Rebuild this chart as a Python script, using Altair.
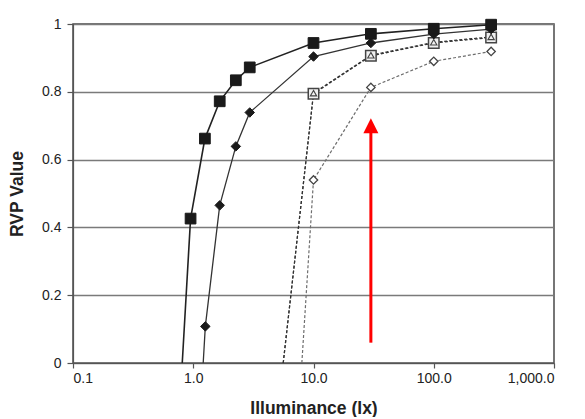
import altair as alt
import pandas as pd

# Series (illuminance in lx, RVP value)
sq_x = [0.81, 0.95, 1.25, 1.66, 2.26, 2.95, 10, 30, 100, 300]
sq_y = [0.0, 0.426, 0.662, 0.772, 0.834, 0.872, 0.944, 0.971, 0.986, 0.998]

di_x = [1.21, 1.26, 1.66, 2.26, 2.95, 10, 30, 100, 300]
di_y = [0.0, 0.108, 0.465, 0.639, 0.739, 0.904, 0.944, 0.970, 0.985]

osq_x = [5.6, 10, 30, 100, 300]
osq_y = [0.0, 0.794, 0.906, 0.944, 0.960]

tri_x = [5.6, 10, 30, 100, 300]
tri_y = [0.0, 0.796, 0.908, 0.946, 0.962]

odi_x = [8.0, 10, 30, 100, 300]
odi_y = [0.0, 0.54, 0.813, 0.890, 0.919]

x_ticks = [0.1, 1, 10, 100, 1000]
y_ticks = [0, 0.2, 0.4, 0.6, 0.8, 1.0]

arrow_x = [30, 30]
arrow_y = [0.06, 0.68]
arrow_head_y = [0.70]

FONT = "Liberation Sans"

def frame(xs, ys, name):
    return pd.DataFrame({"lux": xs, "rvp": ys, "series": name})

d_sq = frame(sq_x, sq_y, "A")
d_di = frame(di_x, di_y, "B")
d_osq = frame(osq_x, osq_y, "C")
d_tri = frame(tri_x, tri_y, "D")
d_odi = frame(odi_x, odi_y, "E")

xs = alt.Scale(type="log", domain=[0.1, 1000])
ys = alt.Scale(domain=[0, 1])

X = alt.X("lux:Q", scale=xs, axis=alt.Axis(
    values=x_ticks, format=",.1f", title="Illuminance (lx)", grid=False,
    tickSize=5, labelPadding=3, titleY=50, titleBaseline="alphabetic"))
Y = alt.Y("rvp:Q", scale=ys, axis=alt.Axis(
    values=y_ticks, format="~g", title="RVP Value", grid=True,
    tickSize=6, labelPadding=6, titleX=-51, titleBaseline="alphabetic"))

def line(df, color, width, dash=None):
    kw = dict(color=color, strokeWidth=width)
    if dash:
        kw["strokeDash"] = dash
    return alt.Chart(df).mark_line(**kw).encode(x=X, y=Y)

def pts(df, shape, size, fill, stroke, sw=1.2):
    return alt.Chart(df).transform_filter("datum.rvp > 0").mark_point(
        shape=shape, size=size, filled=False, fill=fill, fillOpacity=1,
        stroke=stroke, strokeWidth=sw, opacity=1).encode(x=X, y=Y)

layers = [
    line(d_odi, "#6e6e6e", 1.2, [3, 2]),
    line(d_tri, "#333333", 1.2, [3, 2]),
    line(d_osq, "#333333", 1.2, [3, 2]),
    line(d_di, "#333333", 1.3),
    line(d_sq, "#222222", 1.6),
    pts(d_odi, "diamond", 70, "white", "#444444", 1.3),
    pts(d_osq, "square", 110, "#f0f0f0", "#444444", 1.5),
    pts(d_tri, "triangle-up", 40, "none", "#444444", 1.1),
    pts(d_di, "diamond", 90, "#1a1a1a", "#1a1a1a", 1),
    pts(d_sq, "square", 115, "#1a1a1a", "#1a1a1a", 1),
    alt.Chart(pd.DataFrame({"lux": arrow_x, "rvp": arrow_y})).mark_line(
        color="#ff0000", strokeWidth=3).encode(x=X, y=Y),
    alt.Chart(pd.DataFrame({"lux": [arrow_x[0]], "rvp": arrow_head_y})).mark_point(
        shape="M0,-1L1,1L-1,1Z", size=225, filled=True, color="#ff0000",
        opacity=1).encode(x=X, y=Y),
]

chart = alt.layer(*layers).properties(
    width=481, height=339,
    autosize=alt.AutoSizeParams(type="none"),
    padding={"left": 65, "top": 16, "right": 23, "bottom": 54},
    background="white",
).configure_view(
    stroke="#4a4a4a", strokeWidth=1.5
).configure_axis(
    labelFont=FONT, titleFont=FONT, labelFontSize=14, titleFontSize=17.5,
    labelColor="#222222", titleColor="#222222", titleFontWeight="bold",
    domainColor="#555555", domainWidth=1.2, tickColor="#555555", tickWidth=1.2,
    gridColor="#7a7a7a", gridWidth=1.6, gridOpacity=1,
)

chart.save("out.html", embed_options={"renderer": "svg", "actions": False})
